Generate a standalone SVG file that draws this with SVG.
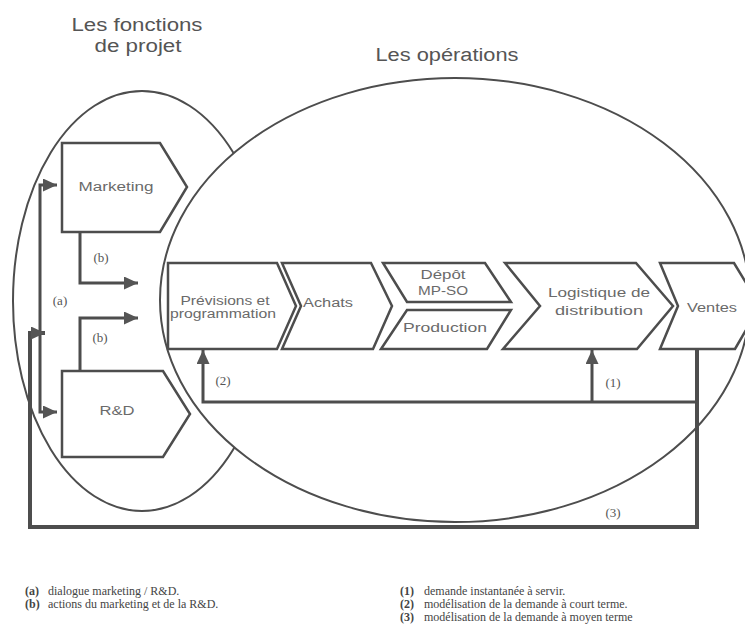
<svg xmlns="http://www.w3.org/2000/svg" width="745" height="637" viewBox="0 0 745 637">
<defs>
<marker id="ah" markerUnits="userSpaceOnUse" markerWidth="16" markerHeight="14" refX="14" refY="6.5" orient="auto"><path d="M0,0 L14,6.5 L0,13 Z" fill="#555"/></marker>
</defs>
<style>
.ell{fill:none;stroke:#4d4d4d;stroke-width:2}
.ellw{fill:#fff;stroke:#4d4d4d;stroke-width:2}
.box{fill:#fff;stroke:#4d4d4d;stroke-width:2.5;stroke-linejoin:miter}
.lbl{font-family:"Liberation Sans",Arial,sans-serif;fill:#6a6a6a;text-anchor:middle;font-size:12px}
.ttl{font-family:"Liberation Sans",Arial,sans-serif;fill:#555;font-size:18px;text-anchor:middle}
.con{fill:none;stroke:#4d4d4d;stroke-width:3}
.con3{fill:none;stroke:#4d4d4d;stroke-width:4}
.cl{font-family:"Liberation Serif","Times New Roman",serif;fill:#555;font-size:13px;text-anchor:middle}
.lg{font-family:"Liberation Serif","Times New Roman",serif;fill:#444;font-size:12px}
.lgb{font-weight:bold}
</style>
<rect width="745" height="637" fill="#fff"/>

<g id="fonctions-projet">
<ellipse class="ell" cx="142" cy="301" rx="129" ry="210"/>
<text class="ttl" x="137" y="31" textLength="131" lengthAdjust="spacingAndGlyphs">Les fonctions</text>
<text class="ttl" x="138" y="52" textLength="87" lengthAdjust="spacingAndGlyphs">de projet</text>
</g>

<g id="operations">
<ellipse class="ellw" cx="455" cy="300" rx="295" ry="222"/>
<text class="ttl" x="447" y="61" textLength="143" lengthAdjust="spacingAndGlyphs">Les opérations</text>
</g>

<g id="marketing">
<path class="box" d="M62,143 H160 L187,187 L160,232 H62 Z"/>
<text class="lbl" x="116" y="191" font-size="13" textLength="75" lengthAdjust="spacingAndGlyphs">Marketing</text>
</g>

<g id="rd">
<path class="box" d="M62,371 H163 L190,414 L163,457 H62 Z"/>
<text class="lbl" x="117" y="415" font-size="13" textLength="35" lengthAdjust="spacingAndGlyphs">R&amp;D</text>
</g>

<g id="previsions">
<path class="box" d="M168,263 H277 L296,306 L277,349 H168 Z"/>
<text class="lbl" x="225" y="305" textLength="89" lengthAdjust="spacingAndGlyphs">Prévisions et</text>
<text class="lbl" x="223" y="318" textLength="106" lengthAdjust="spacingAndGlyphs">programmation</text>
</g>

<g id="achats">
<path class="box" d="M282,263 H371 L392,306 L373,349 H282 L301,306 Z"/>
<text class="lbl" x="328" y="307" textLength="50" lengthAdjust="spacingAndGlyphs">Achats</text>
</g>

<g id="depot">
<path class="box" d="M383,263 H485 L511,302 H407 Z"/>
<text class="lbl" x="443" y="279" textLength="45" lengthAdjust="spacingAndGlyphs">Dépôt</text>
<text class="lbl" x="443" y="295" textLength="50" lengthAdjust="spacingAndGlyphs">MP-SO</text>
</g>

<g id="production">
<path class="box" d="M407,310 H511 L487,349 H381 Z"/>
<text class="lbl" x="445" y="332" textLength="84" lengthAdjust="spacingAndGlyphs">Production</text>
</g>

<g id="logistique">
<path class="box" d="M505,263 H636 L673,306 L637,349 H503 L540,306 Z"/>
<text class="lbl" x="599" y="297" textLength="102" lengthAdjust="spacingAndGlyphs">Logistique de</text>
<text class="lbl" x="599" y="315" textLength="88" lengthAdjust="spacingAndGlyphs">distribution</text>
</g>

<g id="ventes">
<path class="box" d="M660,263 H734 L760,306 L735,349 H660 L678,306 Z"/>
<text class="lbl" x="712" y="312" textLength="50" lengthAdjust="spacingAndGlyphs">Ventes</text>
</g>

<g id="connectors">
<path class="con" d="M40,298 V185 H57" marker-end="url(#ah)"/>
<path class="con" d="M40,298 V412 H57" marker-end="url(#ah)"/>
<path class="con" d="M80,232 V283 H138" marker-end="url(#ah)"/>
<path class="con" d="M80,371 V318 H138" marker-end="url(#ah)"/>
<path class="con" d="M697,402 H203 V350" marker-end="url(#ah)"/>
<path class="con" d="M592,402 V350" marker-end="url(#ah)"/>
<path class="con3" d="M697,349 V527 H30 V333 H45" marker-end="url(#ah)"/>
<text class="cl" x="60" y="305">(a)</text>
<text class="cl" x="101" y="262">(b)</text>
<text class="cl" x="100" y="342">(b)</text>
<text class="cl" x="223" y="385">(2)</text>
<text class="cl" x="613" y="387">(1)</text>
<text class="cl" x="613" y="517">(3)</text>
</g>

<g id="legend">
<text class="lg" y="595"><tspan class="lgb" x="25">(a)</tspan><tspan x="48">dialogue marketing / R&amp;D.</tspan></text>
<text class="lg" y="608"><tspan class="lgb" x="25">(b)</tspan><tspan x="48">actions du marketing et de la R&amp;D.</tspan></text>
<text class="lg" y="595"><tspan class="lgb" x="400">(1)</tspan><tspan x="424">demande instantanée à servir.</tspan></text>
<text class="lg" y="608"><tspan class="lgb" x="400">(2)</tspan><tspan x="424">modélisation de la demande à court terme.</tspan></text>
<text class="lg" y="621"><tspan class="lgb" x="400">(3)</tspan><tspan x="424">modélisation de la demande à moyen terme</tspan></text>
</g>
</svg>
